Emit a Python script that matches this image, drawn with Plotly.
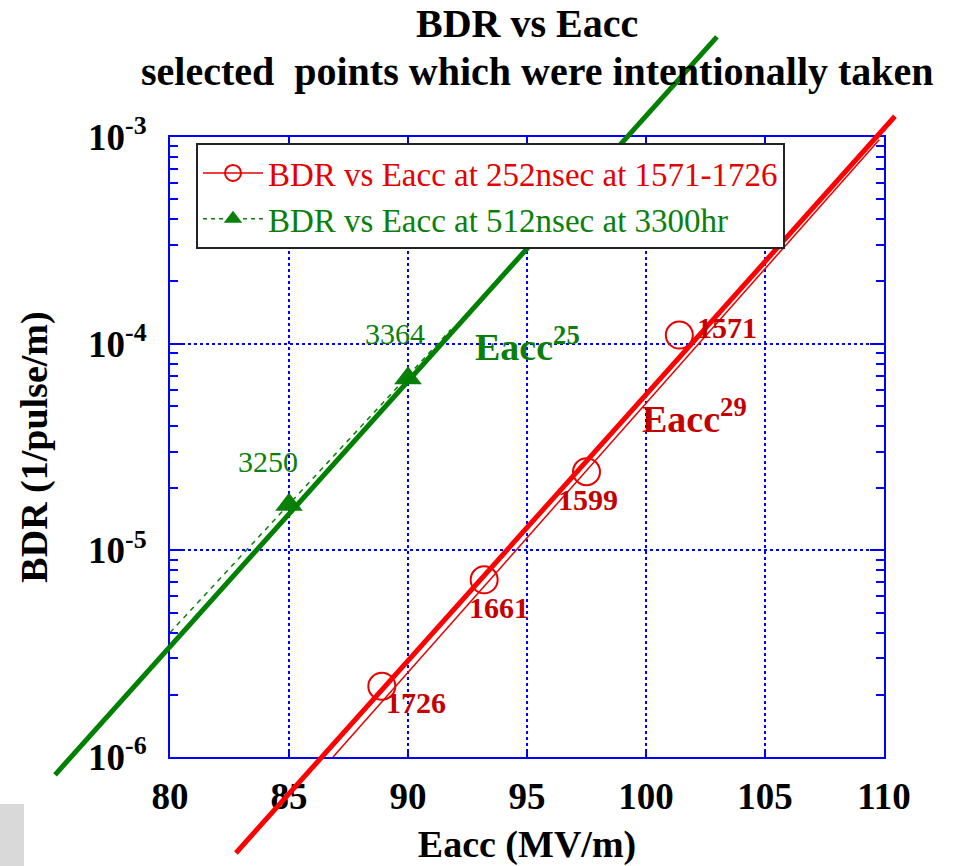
import plotly.graph_objects as go
import numpy as np

# ---------------- data ----------------
red_eacc = [88.9, 93.2, 97.5, 101.4]
red_bdr = [2.2e-6, 7.2e-6, 2.4e-5, 1.1e-4]
red_labels = ["1726", "1661", "1599", "1571"]

green_eacc = [85.0, 90.0]
green_bdr = [1.66e-5, 6.8e-5]
green_labels = ["3250", "3364"]

# thin fit curves drawn with the data series
red_fit_eacc = [86.85, 109.8]
red_fit_bdr = [1.0e-6, 9.7e-4]
green_fit_eacc = [80.0, 91.8]
green_fit_bdr = [4.0e-6, 1.17e-4]

# thick hand-drawn power-law guide lines (extend beyond the frame)
green_guide_eacc = [75.17, 102.98]
green_guide_bdr = [8.2e-7, 3.05e-3]
red_guide_eacc = [82.77, 110.46]
red_guide_bdr = [3.43e-7, 1.26e-3]

x_ticks = [80, 85, 90, 95, 100, 105, 110]
y_tickvals = [1e-6, 1e-5, 1e-4, 1e-3]
y_ticktext = ["10<sup>-6</sup>", "10<sup>-5</sup>", "10<sup>-4</sup>", "10<sup>-3</sup>"]

red_name = "BDR vs Eacc at 252nsec at 1571-1726"
green_name = "BDR vs Eacc at 512nsec at 3300hr"
title_lines = ["BDR vs Eacc", "selected&nbsp; points which were intentionally taken"]

# ---------------- layout geometry ----------------
W, H = 955, 866
xdom = [170 / W, 884 / W]
ydom = [1 - 757 / H, 1 - 137 / H]
xr = [80, 110]
yr = [-6, -3]
# overlay axes spanning the whole figure with the same scale
sx = (xr[1] - xr[0]) / (xdom[1] - xdom[0])
x2r = [xr[0] - xdom[0] * sx, xr[1] + (1 - xdom[1]) * sx]
sy = (yr[1] - yr[0]) / (ydom[1] - ydom[0])
y2r = [yr[0] - ydom[0] * sy, yr[1] + (1 - ydom[1]) * sy]

SERIF = "Liberation Serif, Times New Roman, serif"
RED = "#e60000"
DARKRED = "#c40000"
GREEN = "#0a800a"
BLUE = "#0000ff"

fig = go.Figure()

# thin fit lines
fig.add_trace(go.Scatter(x=red_fit_eacc, y=red_fit_bdr, mode="lines",
                         line=dict(color=RED, width=1.5), showlegend=False,
                         xaxis="x", yaxis="y"))
fig.add_trace(go.Scatter(x=green_fit_eacc, y=green_fit_bdr, mode="lines",
                         line=dict(color=GREEN, width=1.5, dash="5px,5px"),
                         showlegend=False, xaxis="x", yaxis="y"))
# data points
fig.add_trace(go.Scatter(x=red_eacc, y=red_bdr, mode="markers",
                         marker=dict(symbol="circle-open", size=27,
                                     line=dict(color=RED, width=2), color=RED),
                         showlegend=False, xaxis="x", yaxis="y"))
fig.add_trace(go.Scatter(x=green_eacc, y=green_bdr, mode="markers",
                         marker=dict(symbol="triangle-up", size=24, color=GREEN),
                         showlegend=False, xaxis="x", yaxis="y"))
# legend entries
fig.add_trace(go.Scatter(x=[None], y=[None], mode="lines+markers",
                         name=f'<span style="color:{RED}">{red_name}</span>',
                         line=dict(color=RED, width=1.5),
                         marker=dict(symbol="circle-open", size=16,
                                     line=dict(color=RED, width=2), color=RED),
                         xaxis="x", yaxis="y"))
fig.add_trace(go.Scatter(x=[None], y=[None], mode="lines+markers",
                         name=f'<span style="color:{GREEN}">{green_name}</span>',
                         line=dict(color=GREEN, width=1.5, dash="4px,4px"),
                         marker=dict(symbol="triangle-up", size=16, color=GREEN),
                         xaxis="x", yaxis="y"))
# thick guide lines on full-figure overlay axes
fig.add_trace(go.Scatter(x=green_guide_eacc, y=green_guide_bdr, mode="lines",
                         line=dict(color="#008000", width=5), showlegend=False,
                         xaxis="x2", yaxis="y2"))
fig.add_trace(go.Scatter(x=red_guide_eacc, y=red_guide_bdr, mode="lines",
                         line=dict(color="#ff0000", width=5), showlegend=False,
                         xaxis="x2", yaxis="y2"))

annotations = []
# two-line chart title
for txt, xpx, ypx in zip(title_lines, [527, 537], [23, 72]):
    annotations.append(dict(x=xpx / W, y=1 - ypx / H, xref="paper", yref="paper",
                            xanchor="center", yanchor="middle", text=txt, showarrow=False,
                            font=dict(family=SERIF, size=40, color="black", weight="bold")))
red_offsets = [(34, -16), (15, -28), (1, -28), (48, 8)]
for xv, yv, t, (dx, dy) in zip(red_eacc, red_bdr, red_labels, red_offsets):
    annotations.append(dict(x=xv, y=np.log10(yv), xref="x", yref="y", text=t,
                            showarrow=False, xshift=dx, yshift=dy,
                            font=dict(family=SERIF, size=30, color=DARKRED, weight="bold")))
green_offsets = [(-21, 43), (-13, 45)]
for xv, yv, t, (dx, dy) in zip(green_eacc, green_bdr, green_labels, green_offsets):
    annotations.append(dict(x=xv, y=np.log10(yv), xref="x", yref="y", text=t,
                            showarrow=False, xshift=dx, yshift=dy,
                            font=dict(family=SERIF, size=30, color=GREEN)))
annotations.append(dict(x=95.0, y=-4.0, xref="x", yref="y", text="Eacc<sup>25</sup>",
                        showarrow=False,
                        font=dict(family=SERIF, size=38, color=GREEN, weight="bold")))
annotations.append(dict(x=102.05, y=-4.35, xref="x", yref="y", text="Eacc<sup>29</sup>",
                        showarrow=False,
                        font=dict(family=SERIF, size=38, color=DARKRED, weight="bold")))

fig.update_layout(
    width=W, height=H,
    margin=dict(l=0, r=0, t=0, b=0, pad=0),
    paper_bgcolor="white",
    plot_bgcolor="rgba(0,0,0,0)",
    xaxis=dict(domain=xdom, range=xr, anchor="y", automargin=False,
               tickvals=x_ticks, ticks="inside", ticklen=7, tickwidth=2, tickcolor=BLUE,
               showline=True, linecolor=BLUE, linewidth=2, mirror="ticks",
               showgrid=True, gridcolor=BLUE, gridwidth=1.5, griddash="dot",
               zeroline=False, ticklabelstandoff=6,
               tickfont=dict(family=SERIF, size=37, color="black", weight="bold"),
               title=dict(text="Eacc (MV/m)", standoff=16,
                          font=dict(family=SERIF, size=38, color="black", weight="bold"))),
    yaxis=dict(domain=ydom, type="log", range=yr, anchor="x", automargin=False,
               tickvals=y_tickvals, ticktext=y_ticktext,
               ticks="inside", ticklen=14, tickwidth=2, tickcolor=BLUE,
               minor=dict(ticks="inside", ticklen=8, tickwidth=1.5, tickcolor=BLUE,
                          dtick="D1", showgrid=False),
               showline=True, linecolor=BLUE, linewidth=2, mirror="ticks",
               showgrid=True, gridcolor=BLUE, gridwidth=1.5, griddash="dot",
               zeroline=False, ticklabelstandoff=14,
               tickfont=dict(family=SERIF, size=37, color="black", weight="bold"),
               title=dict(text="BDR (1/pulse/m)", standoff=29,
                          font=dict(family=SERIF, size=38, color="black", weight="bold"))),
    xaxis2=dict(domain=[0, 1], range=x2r, anchor="y2", visible=False, fixedrange=True),
    yaxis2=dict(domain=[0, 1], type="log", range=y2r, anchor="x2", visible=False,
                fixedrange=True),
    legend=dict(x=196 / W, y=1 - 143 / H, xanchor="left", yanchor="top",
                bgcolor="white", bordercolor="#222222", borderwidth=2,
                font=dict(family=SERIF, size=33, color="black"),
                itemwidth=60, tracegroupgap=0),
    annotations=annotations,
    shapes=[dict(type="rect", xref="paper", yref="paper", x0=0, x1=24 / W,
                 y0=0, y1=(866 - 804) / H, fillcolor="#d9d9d9", line=dict(width=0),
                 layer="below")],
    showlegend=True,
)

fig.write_html("out.html")
